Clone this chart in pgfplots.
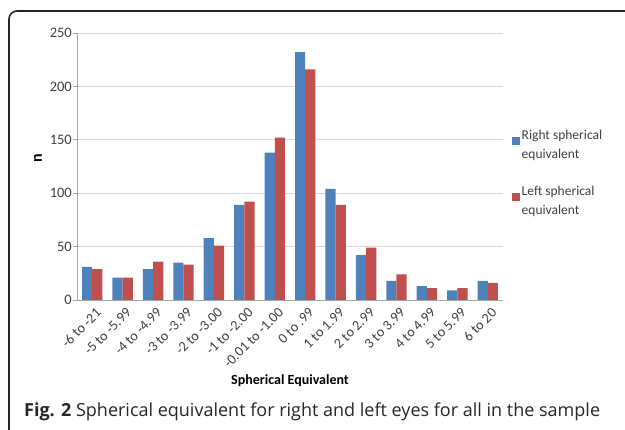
\documentclass[border=0pt]{standalone}
\usepackage{fontspec}
\setmainfont{Carlito}
\newfontfamily\capfont{Open Sans}
\usepackage{pgfplots}
\pgfplotsset{compat=1.18}
\definecolor{rblue}{HTML}{4F81BD}
\definecolor{rred}{HTML}{C0504D}
\definecolor{gridc}{HTML}{D9D9D9}
\definecolor{axc}{HTML}{A6A6A6}
\definecolor{txt}{HTML}{404040}

\begin{document}
\begin{tikzpicture}[x=1pt,y=1pt]
\useasboundingbox (0,0) rectangle (625,430);
\draw[line width=1.6pt, color=black!85] (9,-2) -- (9,411) arc[start angle=180,end angle=90,radius=8] -- (627,419);
\begin{axis}[
  at={(77pt,130pt)}, anchor=south west,
  width=426pt, height=267pt, scale only axis,
  ybar=0pt, bar width=10.2pt,
  xmin=-0.5, xmax=13.5, ymin=0, ymax=250,
  xtick={0,...,13},
  xticklabels={-6 to -21,-5 to -5.99,-4 to -4.99,-3 to -3.99,-2 to -3.00,-1 to -2.00,-0.01 to -1.00,0 to .99,1 to 1.99,2 to 2.99,3 to 3.99,4 to 4.99,5 to 5.99,6 to 20},
  ytick={0,50,...,250},
  axis x line*=bottom, axis y line*=left,
  axis line style={draw=axc, line width=0.8pt},
  x axis line style={-}, y axis line style={-},
  ymajorgrids, grid style={draw=gridc, line width=0.8pt},
  x tick style={draw=none},
  y tick style={draw=axc, line width=0.8pt},
  tick align=outside, major tick length=4pt,
  x tick label style={rotate=45, anchor=north east, inner sep=0pt, font=\fontsize{14.2}{15}\selectfont, text=txt, xshift=0pt, yshift=-4pt},
  y tick label style={anchor=east, inner sep=0pt, xshift=-1pt, font=\fontsize{14.5}{15}\selectfont, text=txt},
  /pgf/number format/assume math mode=true,
  xlabel={\bfseries Spherical Equivalent},
  xlabel style={at={(axis description cs:0.5,0)}, anchor=center, yshift=-81pt, font=\fontsize{14}{14}\selectfont, text=black},
  ylabel={\bfseries n},
  ylabel style={at={(axis description cs:-0.0915,0.532)}, anchor=center, font=\fontsize{16}{16}\selectfont, text=black},
  legend style={at={(axis description cs:1.013,0.652)}, anchor=north west, draw=none, fill=none,
    font=\fontsize{13.5}{19}\selectfont, text=txt, cells={align=left}, row sep=22pt,
    /tikz/every even column/.append style={column sep=3pt}},
  legend cell align=left,
  legend image code/.code={\fill[#1] (0pt,0pt) rectangle (8pt,8pt);},
]
\addplot[fill=rblue, draw=none] coordinates {(0,31) (1,21) (2,29) (3,35) (4,58) (5,89) (6,138) (7,232) (8,104) (9,42) (10,18) (11,13) (12,9) (13,18)};
\addplot[fill=rred, draw=none] coordinates {(0,29) (1,21) (2,36) (3,33) (4,51) (5,92) (6,152) (7,216) (8,89) (9,49) (10,24) (11,11) (12,11) (13,16)};
\legend{{Right spherical\\equivalent},{Left spherical\\equivalent}}
\end{axis}
\node[anchor=base west, inner sep=0pt, font=\capfont\fontsize{18}{18}\selectfont, text=black!85] at (24,13) {\textbf{Fig. 2} Spherical equivalent for right and left eyes for all in the sample};
\end{tikzpicture}
\end{document}
